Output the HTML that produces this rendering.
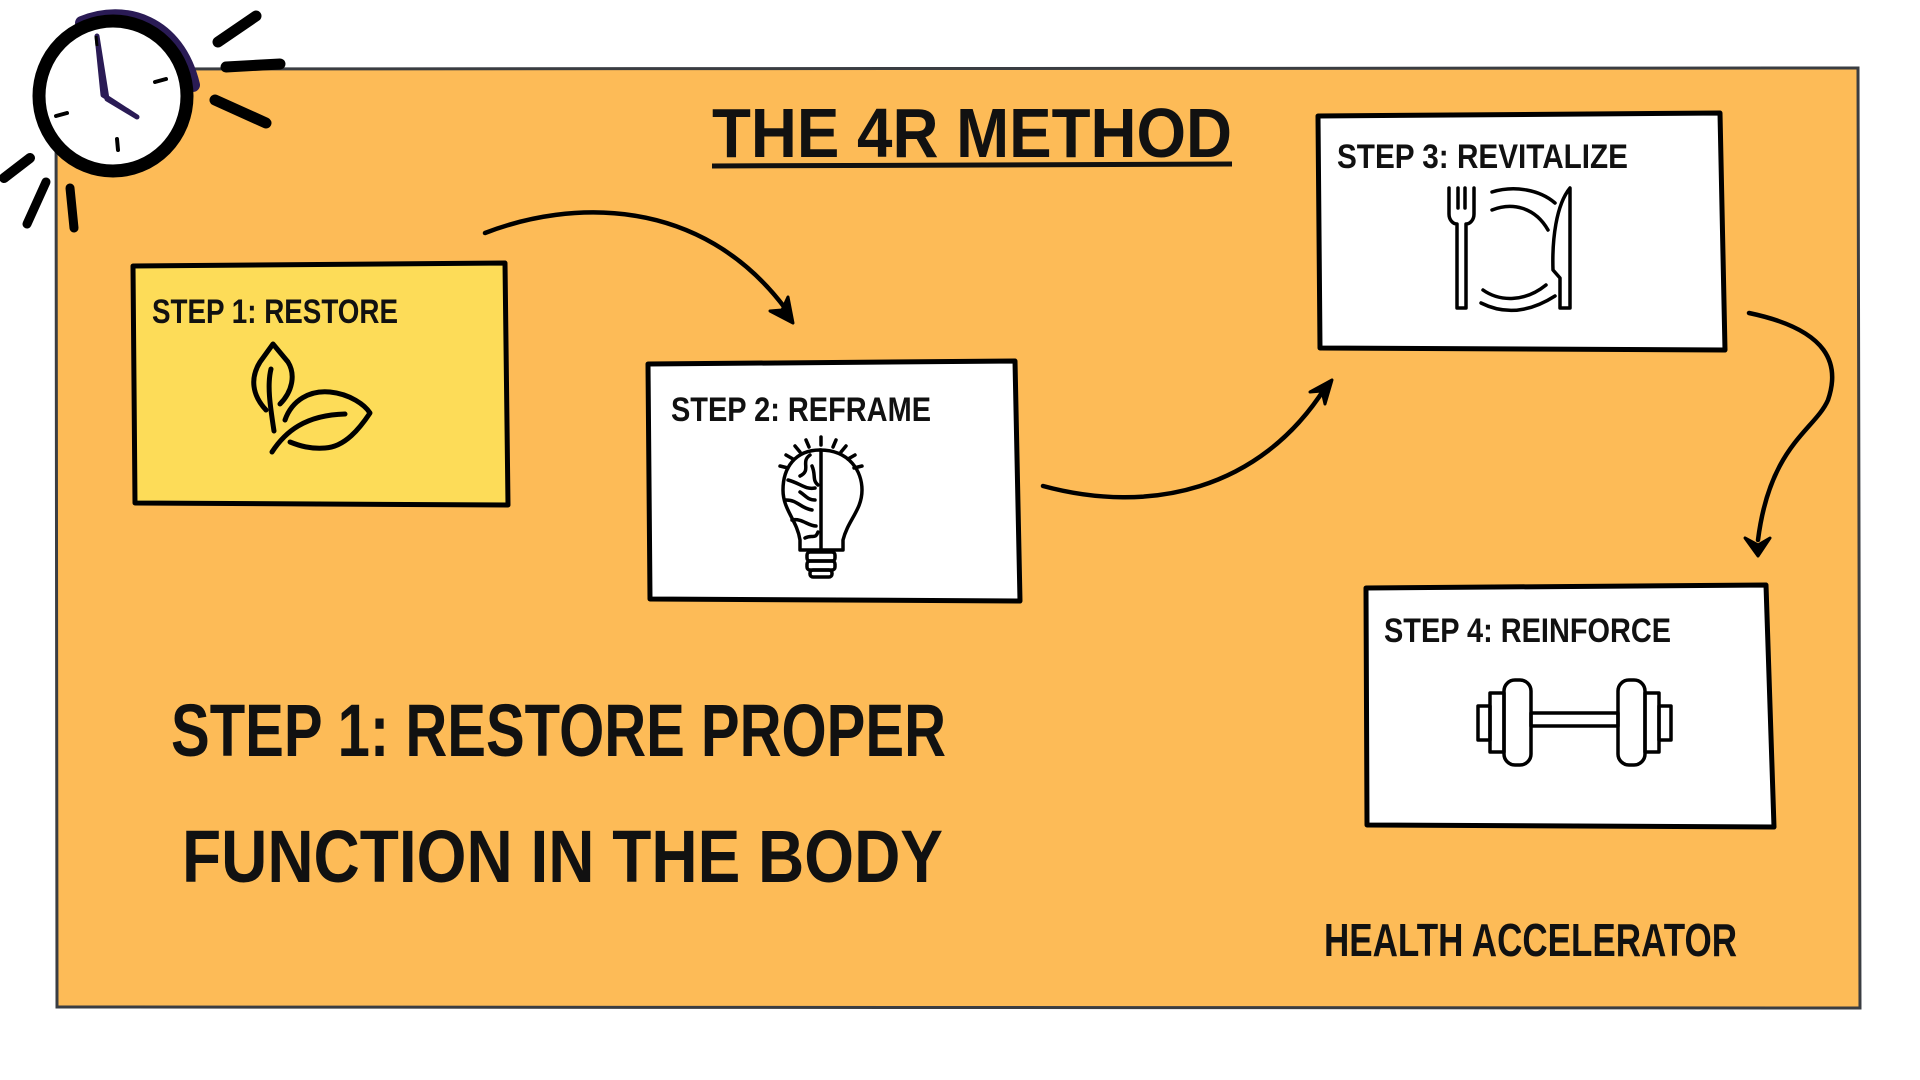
<!DOCTYPE html>
<html><head><meta charset="utf-8"><style>
html,body{margin:0;padding:0;background:#fff;width:1920px;height:1080px;overflow:hidden}
svg{display:block}
text{font-family:"Liberation Sans",sans-serif;font-weight:bold;fill:#111}
</style></head><body>
<svg width="1920" height="1080" viewBox="0 0 1920 1080" xmlns="http://www.w3.org/2000/svg">
<path d="M56,69 L1858,68 L1860,1008 L57,1007 Z" fill="#fdbb57" stroke="#3a3d42" stroke-width="3"/>

<!-- clock -->
<g>
<path d="M82,23 C125,5 178,22 193,85" fill="none" stroke="#2a1b55" stroke-width="14" stroke-linecap="round"/>
<ellipse cx="113" cy="96" rx="74" ry="75" fill="#fff" stroke="#000" stroke-width="13"/>
<path d="M97,36 L103,95 L137,117 L107,99 Z" fill="#2a1b55" stroke="#2a1b55" stroke-width="5" stroke-linejoin="round"/>
<line x1="96" y1="36" x2="97" y2="46" stroke="#000" stroke-width="3"/>
<line x1="155" y1="82" x2="166" y2="79" stroke="#000" stroke-width="4" stroke-linecap="round"/>
<line x1="56" y1="116" x2="67" y2="113" stroke="#000" stroke-width="4" stroke-linecap="round"/>
<line x1="117" y1="139" x2="118" y2="150" stroke="#000" stroke-width="4" stroke-linecap="round"/>
<g stroke="#000" stroke-linecap="round" fill="none">
<line x1="218" y1="42" x2="256" y2="16" stroke-width="11"/>
<line x1="226" y1="67" x2="280" y2="64" stroke-width="11"/>
<line x1="215" y1="100" x2="266" y2="123" stroke-width="11"/>
<line x1="4" y1="178" x2="30" y2="158" stroke-width="10"/>
<line x1="27" y1="224" x2="46" y2="182" stroke-width="9"/>
<line x1="70" y1="188" x2="74" y2="228" stroke-width="9"/>
</g>
</g>

<text x="712" y="157" font-size="70" textLength="520" lengthAdjust="spacingAndGlyphs">THE 4R METHOD</text>
<path d="M712,166 L1232,164" stroke="#111" stroke-width="5" fill="none"/>

<!-- Box 1 -->
<path d="M133,266 L505,263 L508,505 L135,503 Z" fill="#fddc58" stroke="#000" stroke-width="5" stroke-linejoin="round"/>
<text x="152" y="323" font-size="34" font-weight="normal" textLength="246" lengthAdjust="spacingAndGlyphs">STEP 1: RESTORE</text>
<g fill="none" stroke="#000" stroke-width="5" stroke-linecap="round" stroke-linejoin="round">
<path d="M280,404 C292,392 296,375 288,362 L273,344 L260,362 C250,378 252,395 266,410"/>
<path d="M271,369 C267,385 270,405 274,431"/>
<path d="M285,420 C292,400 310,390 330,392 C350,394 365,405 370,413 C360,428 345,447 325,448 C310,449 300,446 290,442"/>
<path d="M272,452 C285,432 305,415 345,414"/>
</g>

<!-- Box 2 -->
<path d="M648,364 L1015,361 L1020,601 L650,599 Z" fill="#fff" stroke="#000" stroke-width="5" stroke-linejoin="round"/>
<text x="671" y="421" font-size="34" font-weight="normal" textLength="260" lengthAdjust="spacingAndGlyphs">STEP 2: REFRAME</text>
<g fill="none" stroke="#000" stroke-width="3.5" stroke-linecap="round" stroke-linejoin="round">
<path d="M820,450 C850,450 862,472 862,490 C862,510 848,520 843,540 L843,550 L821,550"/>
<path d="M820,450 C795,450 783,468 783,490 C783,510 797,520 800,540 L800,550 L821,550"/>
<line x1="821" y1="450" x2="821" y2="550"/>
<path d="M810,455 C800,462 812,470 800,476 M788,480 C800,483 805,490 815,488 M786,500 C798,500 800,508 812,510 M792,520 C802,518 808,526 816,526 M805,538 C812,534 815,540 818,532 M812,466 C816,475 812,480 818,485 M800,492 C806,496 808,500 815,500"/>
<rect x="807" y="552" width="28" height="9" rx="3"/>
<rect x="807" y="561" width="28" height="9" rx="3"/>
<rect x="810" y="570" width="22" height="7" rx="3"/>
<path d="M821,437 L821,445 M806,440 L809,447 M836,440 L833,447 M795,446 L800,452 M846,446 L841,452 M786,455 L793,459 M855,455 L848,459 M780,466 L788,468 M862,466 L854,468"/>
</g>

<!-- Box 3 -->
<path d="M1318,116 L1720,113 L1725,350 L1320,348 Z" fill="#fff" stroke="#000" stroke-width="5" stroke-linejoin="round"/>
<text x="1337" y="168" font-size="34" font-weight="normal" textLength="291" lengthAdjust="spacingAndGlyphs">STEP 3: REVITALIZE</text>
<g fill="none" stroke="#000" stroke-width="3.5" stroke-linecap="round" stroke-linejoin="round">
<path d="M1449,188 L1449,214 C1449,220 1453,224 1457,224 L1457,308 L1466,308 L1466,224 C1470,224 1474,220 1474,214 L1474,188 M1458,188 L1458,208 M1465,188 L1465,208"/>
<path d="M1570,188 L1570,308 L1560,308 L1560,278 L1553,270 C1552,240 1556,205 1570,188 Z"/>
<path d="M1492,192 C1515,185 1540,190 1555,203"/>
<path d="M1492,210 C1512,202 1535,207 1548,230"/>
<path d="M1483,290 C1500,302 1525,302 1546,285"/>
<path d="M1481,303 C1505,315 1530,312 1555,296"/>
</g>

<!-- Box 4 -->
<path d="M1366,588 L1766,585 L1774,827 L1367,825 Z" fill="#fff" stroke="#000" stroke-width="5" stroke-linejoin="round"/>
<text x="1384" y="642" font-size="34" font-weight="normal" textLength="287" lengthAdjust="spacingAndGlyphs">STEP 4: REINFORCE</text>
<g fill="none" stroke="#000" stroke-width="3.5" stroke-linejoin="round">
<rect x="1478" y="706" width="12" height="34"/>
<rect x="1490" y="693" width="14" height="59"/>
<rect x="1504" y="680" width="27" height="85" rx="11"/>
<rect x="1531" y="713" width="87" height="13"/>
<rect x="1618" y="680" width="27" height="85" rx="11"/>
<rect x="1645" y="693" width="14" height="59"/>
<rect x="1659" y="706" width="12" height="34"/>
</g>

<!-- connectors -->
<g fill="none" stroke="#000" stroke-width="4.5" stroke-linecap="round">
<path d="M485,233 C570,200 700,195 785,308"/>
<path d="M1043,486 C1150,515 1260,490 1325,388"/>
<path d="M1749,313 C1830,330 1840,365 1828,400 C1815,430 1770,445 1758,540"/>
</g>
<g fill="#000" stroke="#000" stroke-width="3" stroke-linejoin="round">
<path d="M770,311 L793,323 L788,297 L782,310 Z"/>
<path d="M1310,392 L1332,380 L1325,404 L1322,391 Z"/>
<path d="M1745,538 L1758,556 L1770,538 L1758,545 Z"/>
</g>

<text x="171" y="756" font-size="74" textLength="775" lengthAdjust="spacingAndGlyphs">STEP 1: RESTORE PROPER</text>
<text x="182" y="882" font-size="74" textLength="761" lengthAdjust="spacingAndGlyphs">FUNCTION IN THE BODY</text>
<text x="1324" y="956" font-size="46" font-weight="normal" textLength="413" lengthAdjust="spacingAndGlyphs">HEALTH ACCELERATOR</text>
</svg>
</body></html>
